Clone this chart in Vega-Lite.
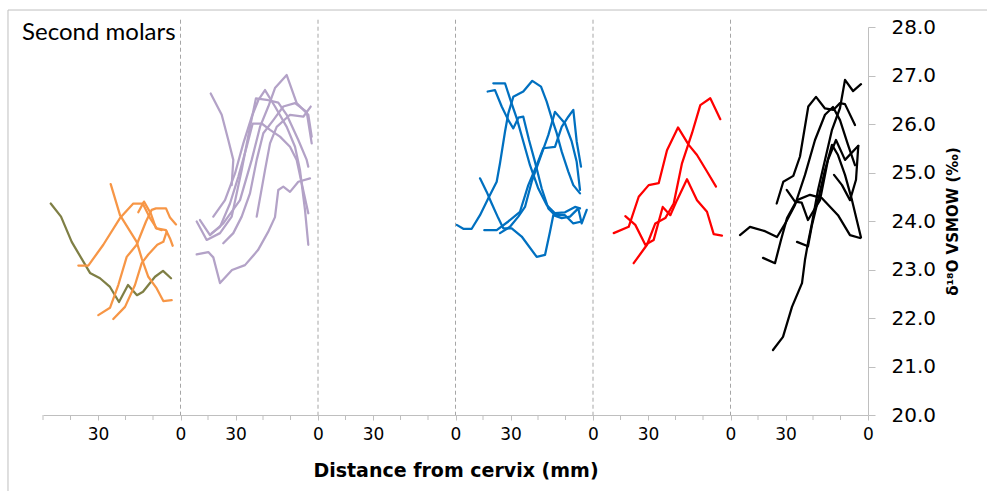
{
  "$schema": "https://vega.github.io/schema/vega-lite/v6.json",
  "autosize": {"type": "none"},
  "width": 825,
  "height": 388,
  "padding": {"left": 43, "top": 27, "right": 119, "bottom": 76},
  "background": "white",
  "config": {"view": {"stroke": null}, "axis": {"labelOverlap": false}},
  "layer": [
    {
      "data": {"values": [
        {"s": "o1", "c": "olive", "i": 0, "x": 2.8, "y": 24.36}, {"s": "o1", "c": "olive", "i": 1, "x": 6.55, "y": 24.09}, {"s": "o1", "c": "olive", "i": 2, "x": 10.44, "y": 23.57}, {"s": "o1", "c": "olive", "i": 3, "x": 17.09, "y": 22.93}, {"s": "o1", "c": "olive", "i": 4, "x": 20.73, "y": 22.82}, {"s": "o1", "c": "olive", "i": 5, "x": 24.36, "y": 22.64}, {"s": "o1", "c": "olive", "i": 6, "x": 27.64, "y": 22.33}, {"s": "o1", "c": "olive", "i": 7, "x": 30.91, "y": 22.68}, {"s": "o1", "c": "olive", "i": 8, "x": 34.18, "y": 22.47}, {"s": "o1", "c": "olive", "i": 9, "x": 36.36, "y": 22.54}, {"s": "o1", "c": "olive", "i": 10, "x": 40.73, "y": 22.85}, {"s": "o1", "c": "olive", "i": 11, "x": 43.64, "y": 22.97}, {"s": "o1", "c": "olive", "i": 12, "x": 46.55, "y": 22.82},

        {"s": "a1", "c": "orange", "i": 0, "x": 24.62, "y": 24.76}, {"s": "a1", "c": "orange", "i": 1, "x": 28.0, "y": 24.12}, {"s": "a1", "c": "orange", "i": 2, "x": 34.07, "y": 23.57}, {"s": "a1", "c": "orange", "i": 3, "x": 35.89, "y": 23.23}, {"s": "a1", "c": "orange", "i": 4, "x": 38.29, "y": 22.85}, {"s": "a1", "c": "orange", "i": 5, "x": 41.35, "y": 22.61}, {"s": "a1", "c": "orange", "i": 6, "x": 43.75, "y": 22.35}, {"s": "a1", "c": "orange", "i": 7, "x": 46.8, "y": 22.37},
        {"s": "a2", "c": "orange", "i": 0, "x": 12.84, "y": 23.08}, {"s": "a2", "c": "orange", "i": 1, "x": 16.47, "y": 23.08}, {"s": "a2", "c": "orange", "i": 2, "x": 21.93, "y": 23.51}, {"s": "a2", "c": "orange", "i": 3, "x": 28.0, "y": 24.06}, {"s": "a2", "c": "orange", "i": 4, "x": 32.84, "y": 24.36}, {"s": "a2", "c": "orange", "i": 5, "x": 36.25, "y": 24.36}, {"s": "a2", "c": "orange", "i": 6, "x": 38.91, "y": 24.06}, {"s": "a2", "c": "orange", "i": 7, "x": 41.35, "y": 23.85}, {"s": "a2", "c": "orange", "i": 8, "x": 44.73, "y": 23.81}, {"s": "a2", "c": "orange", "i": 9, "x": 46.18, "y": 23.64}, {"s": "a2", "c": "orange", "i": 10, "x": 47.16, "y": 23.49},
        {"s": "a3", "c": "orange", "i": 0, "x": 20.11, "y": 22.06}, {"s": "a3", "c": "orange", "i": 1, "x": 24.36, "y": 22.21}, {"s": "a3", "c": "orange", "i": 2, "x": 27.38, "y": 22.68}, {"s": "a3", "c": "orange", "i": 3, "x": 30.44, "y": 23.26}, {"s": "a3", "c": "orange", "i": 4, "x": 34.07, "y": 23.51}, {"s": "a3", "c": "orange", "i": 5, "x": 37.45, "y": 23.99}, {"s": "a3", "c": "orange", "i": 6, "x": 39.53, "y": 24.23}, {"s": "a3", "c": "orange", "i": 7, "x": 41.09, "y": 24.26}, {"s": "a3", "c": "orange", "i": 8, "x": 44.73, "y": 24.26}, {"s": "a3", "c": "orange", "i": 9, "x": 46.18, "y": 24.07}, {"s": "a3", "c": "orange", "i": 10, "x": 48.36, "y": 23.93},
        {"s": "a4", "c": "orange", "i": 0, "x": 25.56, "y": 21.98}, {"s": "a4", "c": "orange", "i": 1, "x": 29.82, "y": 22.23}, {"s": "a4", "c": "orange", "i": 2, "x": 33.45, "y": 22.68}, {"s": "a4", "c": "orange", "i": 3, "x": 35.89, "y": 23.13}, {"s": "a4", "c": "orange", "i": 4, "x": 38.29, "y": 23.31}, {"s": "a4", "c": "orange", "i": 5, "x": 41.56, "y": 23.51}, {"s": "a4", "c": "orange", "i": 6, "x": 43.75, "y": 23.57}, {"s": "a4", "c": "orange", "i": 7, "x": 44.98, "y": 23.78},
        {"s": "a5", "c": "orange", "i": 0, "x": 34.65, "y": 24.18}, {"s": "a5", "c": "orange", "i": 1, "x": 36.73, "y": 24.40}, {"s": "a5", "c": "orange", "i": 2, "x": 39.16, "y": 24.16}, {"s": "a5", "c": "orange", "i": 3, "x": 41.09, "y": 23.85}, {"s": "a5", "c": "orange", "i": 4, "x": 43.16, "y": 23.81},

        {"s": "p1", "c": "lav", "i": 0, "x": 60.98, "y": 26.63}, {"s": "p1", "c": "lav", "i": 1, "x": 64.98, "y": 26.19}, {"s": "p1", "c": "lav", "i": 2, "x": 67.38, "y": 25.67}, {"s": "p1", "c": "lav", "i": 3, "x": 69.2, "y": 25.26}, {"s": "p1", "c": "lav", "i": 4, "x": 68.62, "y": 24.74},
        {"s": "p2", "c": "lav", "i": 0, "x": 57.09, "y": 24.02}, {"s": "p2", "c": "lav", "i": 1, "x": 60.73, "y": 23.71}, {"s": "p2", "c": "lav", "i": 2, "x": 65.56, "y": 23.95}, {"s": "p2", "c": "lav", "i": 3, "x": 71.64, "y": 24.43}, {"s": "p2", "c": "lav", "i": 4, "x": 75.89, "y": 25.26}, {"s": "p2", "c": "lav", "i": 5, "x": 78.91, "y": 25.94}, {"s": "p2", "c": "lav", "i": 6, "x": 81.93, "y": 26.36}, {"s": "p2", "c": "lav", "i": 7, "x": 84.36, "y": 26.74}, {"s": "p2", "c": "lav", "i": 8, "x": 88.62, "y": 27.01}, {"s": "p2", "c": "lav", "i": 9, "x": 92.25, "y": 26.43}, {"s": "p2", "c": "lav", "i": 10, "x": 96.47, "y": 26.19}, {"s": "p2", "c": "lav", "i": 11, "x": 97.71, "y": 25.74},
        {"s": "p3", "c": "lav", "i": 0, "x": 55.89, "y": 23.99}, {"s": "p3", "c": "lav", "i": 1, "x": 59.53, "y": 23.61}, {"s": "p3", "c": "lav", "i": 2, "x": 64.36, "y": 23.75}, {"s": "p3", "c": "lav", "i": 3, "x": 68.62, "y": 24.09}, {"s": "p3", "c": "lav", "i": 4, "x": 72.25, "y": 25.05}, {"s": "p3", "c": "lav", "i": 5, "x": 75.27, "y": 25.94}, {"s": "p3", "c": "lav", "i": 6, "x": 77.45, "y": 26.53}, {"s": "p3", "c": "lav", "i": 7, "x": 81.93, "y": 26.49}, {"s": "p3", "c": "lav", "i": 8, "x": 85.56, "y": 26.44}, {"s": "p3", "c": "lav", "i": 9, "x": 88.62, "y": 26.19}, {"s": "p3", "c": "lav", "i": 10, "x": 92.84, "y": 25.67}, {"s": "p3", "c": "lav", "i": 11, "x": 95.89, "y": 25.26}, {"s": "p3", "c": "lav", "i": 12, "x": 96.47, "y": 25.12},
        {"s": "p4", "c": "lav", "i": 0, "x": 61.35, "y": 23.75}, {"s": "p4", "c": "lav", "i": 1, "x": 64.36, "y": 23.88}, {"s": "p4", "c": "lav", "i": 2, "x": 68.0, "y": 24.36}, {"s": "p4", "c": "lav", "i": 3, "x": 71.02, "y": 24.91}, {"s": "p4", "c": "lav", "i": 4, "x": 74.07, "y": 25.53}, {"s": "p4", "c": "lav", "i": 5, "x": 76.25, "y": 26.01}, {"s": "p4", "c": "lav", "i": 6, "x": 79.53, "y": 26.01}, {"s": "p4", "c": "lav", "i": 7, "x": 82.55, "y": 25.88}, {"s": "p4", "c": "lav", "i": 8, "x": 86.18, "y": 25.74}, {"s": "p4", "c": "lav", "i": 9, "x": 89.82, "y": 25.53}, {"s": "p4", "c": "lav", "i": 10, "x": 92.25, "y": 25.26}, {"s": "p4", "c": "lav", "i": 11, "x": 94.07, "y": 24.78}, {"s": "p4", "c": "lav", "i": 12, "x": 96.47, "y": 24.16},
        {"s": "p5", "c": "lav", "i": 0, "x": 55.89, "y": 23.31}, {"s": "p5", "c": "lav", "i": 1, "x": 60.11, "y": 23.36}, {"s": "p5", "c": "lav", "i": 2, "x": 61.93, "y": 23.25}, {"s": "p5", "c": "lav", "i": 3, "x": 64.36, "y": 22.72}, {"s": "p5", "c": "lav", "i": 4, "x": 68.73, "y": 22.99}, {"s": "p5", "c": "lav", "i": 5, "x": 73.45, "y": 23.09}, {"s": "p5", "c": "lav", "i": 6, "x": 78.18, "y": 23.40}, {"s": "p5", "c": "lav", "i": 7, "x": 81.82, "y": 23.77}, {"s": "p5", "c": "lav", "i": 8, "x": 84.36, "y": 24.08}, {"s": "p5", "c": "lav", "i": 9, "x": 85.56, "y": 24.64}, {"s": "p5", "c": "lav", "i": 10, "x": 87.38, "y": 24.71}, {"s": "p5", "c": "lav", "i": 11, "x": 89.82, "y": 24.60}, {"s": "p5", "c": "lav", "i": 12, "x": 92.84, "y": 24.81}, {"s": "p5", "c": "lav", "i": 13, "x": 97.09, "y": 24.88},
        {"s": "p6", "c": "lav", "i": 0, "x": 65.56, "y": 23.54}, {"s": "p6", "c": "lav", "i": 1, "x": 69.2, "y": 23.75}, {"s": "p6", "c": "lav", "i": 2, "x": 72.25, "y": 24.09}, {"s": "p6", "c": "lav", "i": 3, "x": 75.27, "y": 24.57}, {"s": "p6", "c": "lav", "i": 4, "x": 77.71, "y": 25.26}, {"s": "p6", "c": "lav", "i": 5, "x": 80.11, "y": 25.81}, {"s": "p6", "c": "lav", "i": 6, "x": 83.75, "y": 26.08}, {"s": "p6", "c": "lav", "i": 7, "x": 87.38, "y": 26.36}, {"s": "p6", "c": "lav", "i": 8, "x": 91.64, "y": 26.43}, {"s": "p6", "c": "lav", "i": 9, "x": 95.89, "y": 26.25}, {"s": "p6", "c": "lav", "i": 10, "x": 97.71, "y": 25.60},
        {"s": "p7", "c": "lav", "i": 0, "x": 61.93, "y": 24.09}, {"s": "p7", "c": "lav", "i": 1, "x": 66.18, "y": 24.43}, {"s": "p7", "c": "lav", "i": 2, "x": 69.82, "y": 24.98}, {"s": "p7", "c": "lav", "i": 3, "x": 72.84, "y": 25.60}, {"s": "p7", "c": "lav", "i": 4, "x": 75.89, "y": 26.15}, {"s": "p7", "c": "lav", "i": 5, "x": 78.29, "y": 26.49}, {"s": "p7", "c": "lav", "i": 6, "x": 80.73, "y": 26.70}, {"s": "p7", "c": "lav", "i": 7, "x": 84.36, "y": 26.36}, {"s": "p7", "c": "lav", "i": 8, "x": 88.62, "y": 25.94}, {"s": "p7", "c": "lav", "i": 9, "x": 91.64, "y": 25.53}, {"s": "p7", "c": "lav", "i": 10, "x": 93.45, "y": 25.05}, {"s": "p7", "c": "lav", "i": 11, "x": 95.27, "y": 24.23}, {"s": "p7", "c": "lav", "i": 12, "x": 96.47, "y": 23.51},
        {"s": "p8", "c": "lav", "i": 0, "x": 77.71, "y": 24.09}, {"s": "p8", "c": "lav", "i": 1, "x": 80.73, "y": 25.05}, {"s": "p8", "c": "lav", "i": 2, "x": 82.55, "y": 25.60}, {"s": "p8", "c": "lav", "i": 3, "x": 84.98, "y": 25.94}, {"s": "p8", "c": "lav", "i": 4, "x": 89.82, "y": 26.19}, {"s": "p8", "c": "lav", "i": 5, "x": 94.65, "y": 26.15}, {"s": "p8", "c": "lav", "i": 6, "x": 97.35, "y": 26.36},

        {"s": "b1", "c": "blue", "i": 0, "x": 150.44, "y": 23.92}, {"s": "b1", "c": "blue", "i": 1, "x": 152.84, "y": 23.84}, {"s": "b1", "c": "blue", "i": 2, "x": 155.89, "y": 23.84}, {"s": "b1", "c": "blue", "i": 3, "x": 158.91, "y": 24.12}, {"s": "b1", "c": "blue", "i": 4, "x": 161.93, "y": 24.47}, {"s": "b1", "c": "blue", "i": 5, "x": 164.98, "y": 24.81}, {"s": "b1", "c": "blue", "i": 6, "x": 166.18, "y": 25.19}, {"s": "b1", "c": "blue", "i": 7, "x": 168.0, "y": 25.84}, {"s": "b1", "c": "blue", "i": 8, "x": 169.2, "y": 26.22}, {"s": "b1", "c": "blue", "i": 9, "x": 171.02, "y": 26.56}, {"s": "b1", "c": "blue", "i": 10, "x": 174.65, "y": 26.67}, {"s": "b1", "c": "blue", "i": 11, "x": 177.93, "y": 26.89}, {"s": "b1", "c": "blue", "i": 12, "x": 181.09, "y": 26.77}, {"s": "b1", "c": "blue", "i": 13, "x": 183.16, "y": 26.46}, {"s": "b1", "c": "blue", "i": 14, "x": 184.98, "y": 26.12}, {"s": "b1", "c": "blue", "i": 15, "x": 186.8, "y": 25.81}, {"s": "b1", "c": "blue", "i": 16, "x": 188.62, "y": 25.43}, {"s": "b1", "c": "blue", "i": 17, "x": 191.02, "y": 25.02}, {"s": "b1", "c": "blue", "i": 18, "x": 192.84, "y": 24.74}, {"s": "b1", "c": "blue", "i": 19, "x": 195.27, "y": 24.57},
        {"s": "b2", "c": "blue", "i": 0, "x": 161.7, "y": 26.67}, {"s": "b2", "c": "blue", "i": 1, "x": 164.36, "y": 26.70}, {"s": "b2", "c": "blue", "i": 2, "x": 166.8, "y": 26.36}, {"s": "b2", "c": "blue", "i": 3, "x": 169.2, "y": 26.08}, {"s": "b2", "c": "blue", "i": 4, "x": 171.02, "y": 25.91}, {"s": "b2", "c": "blue", "i": 5, "x": 172.84, "y": 26.13}, {"s": "b2", "c": "blue", "i": 6, "x": 174.65, "y": 26.15}, {"s": "b2", "c": "blue", "i": 7, "x": 176.73, "y": 25.67}, {"s": "b2", "c": "blue", "i": 8, "x": 178.91, "y": 25.22}, {"s": "b2", "c": "blue", "i": 9, "x": 181.35, "y": 24.67}, {"s": "b2", "c": "blue", "i": 10, "x": 183.75, "y": 24.26}, {"s": "b2", "c": "blue", "i": 11, "x": 186.18, "y": 24.12}, {"s": "b2", "c": "blue", "i": 12, "x": 189.82, "y": 24.12}, {"s": "b2", "c": "blue", "i": 13, "x": 192.84, "y": 23.95}, {"s": "b2", "c": "blue", "i": 14, "x": 195.89, "y": 23.99},
        {"s": "b3", "c": "blue", "i": 0, "x": 163.75, "y": 26.84}, {"s": "b3", "c": "blue", "i": 1, "x": 168.0, "y": 26.84}, {"s": "b3", "c": "blue", "i": 2, "x": 170.18, "y": 26.46}, {"s": "b3", "c": "blue", "i": 3, "x": 172.25, "y": 26.12}, {"s": "b3", "c": "blue", "i": 4, "x": 174.65, "y": 25.64}, {"s": "b3", "c": "blue", "i": 5, "x": 177.09, "y": 25.15}, {"s": "b3", "c": "blue", "i": 6, "x": 180.11, "y": 24.67}, {"s": "b3", "c": "blue", "i": 7, "x": 183.16, "y": 24.33}, {"s": "b3", "c": "blue", "i": 8, "x": 186.18, "y": 24.16}, {"s": "b3", "c": "blue", "i": 9, "x": 189.82, "y": 24.18}, {"s": "b3", "c": "blue", "i": 10, "x": 193.45, "y": 24.29}, {"s": "b3", "c": "blue", "i": 11, "x": 195.27, "y": 24.26},
        {"s": "b4", "c": "blue", "i": 0, "x": 158.91, "y": 24.88}, {"s": "b4", "c": "blue", "i": 1, "x": 161.35, "y": 24.60}, {"s": "b4", "c": "blue", "i": 2, "x": 163.16, "y": 24.36}, {"s": "b4", "c": "blue", "i": 3, "x": 165.56, "y": 24.06}, {"s": "b4", "c": "blue", "i": 4, "x": 167.38, "y": 23.85}, {"s": "b4", "c": "blue", "i": 5, "x": 170.44, "y": 23.85}, {"s": "b4", "c": "blue", "i": 6, "x": 174.07, "y": 23.68}, {"s": "b4", "c": "blue", "i": 7, "x": 179.53, "y": 23.26}, {"s": "b4", "c": "blue", "i": 8, "x": 182.55, "y": 23.30}, {"s": "b4", "c": "blue", "i": 9, "x": 184.36, "y": 23.78}, {"s": "b4", "c": "blue", "i": 10, "x": 185.56, "y": 24.12}, {"s": "b4", "c": "blue", "i": 11, "x": 188.62, "y": 24.06}, {"s": "b4", "c": "blue", "i": 12, "x": 191.64, "y": 24.09}, {"s": "b4", "c": "blue", "i": 13, "x": 194.65, "y": 24.26}, {"s": "b4", "c": "blue", "i": 14, "x": 195.89, "y": 23.95}, {"s": "b4", "c": "blue", "i": 15, "x": 197.71, "y": 24.23},
        {"s": "b5", "c": "blue", "i": 0, "x": 160.47, "y": 23.81}, {"s": "b5", "c": "blue", "i": 1, "x": 164.98, "y": 23.81}, {"s": "b5", "c": "blue", "i": 2, "x": 169.2, "y": 23.99}, {"s": "b5", "c": "blue", "i": 3, "x": 173.45, "y": 24.19}, {"s": "b5", "c": "blue", "i": 4, "x": 176.47, "y": 24.74}, {"s": "b5", "c": "blue", "i": 5, "x": 179.53, "y": 25.15}, {"s": "b5", "c": "blue", "i": 6, "x": 181.93, "y": 25.50}, {"s": "b5", "c": "blue", "i": 7, "x": 186.18, "y": 25.53}, {"s": "b5", "c": "blue", "i": 8, "x": 188.62, "y": 25.94}, {"s": "b5", "c": "blue", "i": 9, "x": 191.02, "y": 26.15}, {"s": "b5", "c": "blue", "i": 10, "x": 192.84, "y": 26.29}, {"s": "b5", "c": "blue", "i": 11, "x": 194.07, "y": 25.64}, {"s": "b5", "c": "blue", "i": 12, "x": 195.64, "y": 25.12},
        {"s": "b6", "c": "blue", "i": 0, "x": 166.18, "y": 23.75}, {"s": "b6", "c": "blue", "i": 1, "x": 169.82, "y": 23.88}, {"s": "b6", "c": "blue", "i": 2, "x": 172.84, "y": 24.09}, {"s": "b6", "c": "blue", "i": 3, "x": 175.27, "y": 24.29}, {"s": "b6", "c": "blue", "i": 4, "x": 177.71, "y": 24.81}, {"s": "b6", "c": "blue", "i": 5, "x": 180.73, "y": 25.29}, {"s": "b6", "c": "blue", "i": 6, "x": 183.75, "y": 25.77}, {"s": "b6", "c": "blue", "i": 7, "x": 186.18, "y": 26.25}, {"s": "b6", "c": "blue", "i": 8, "x": 189.82, "y": 26.01}, {"s": "b6", "c": "blue", "i": 9, "x": 192.25, "y": 25.64}, {"s": "b6", "c": "blue", "i": 10, "x": 194.07, "y": 25.22}, {"s": "b6", "c": "blue", "i": 11, "x": 195.27, "y": 24.64},

        {"s": "r1", "c": "red", "i": 0, "x": 207.53, "y": 23.75}, {"s": "r1", "c": "red", "i": 1, "x": 212.98, "y": 23.88}, {"s": "r1", "c": "red", "i": 2, "x": 216.62, "y": 24.50}, {"s": "r1", "c": "red", "i": 3, "x": 220.25, "y": 24.74}, {"s": "r1", "c": "red", "i": 4, "x": 223.89, "y": 24.78}, {"s": "r1", "c": "red", "i": 5, "x": 226.91, "y": 25.46}, {"s": "r1", "c": "red", "i": 6, "x": 230.91, "y": 25.93}, {"s": "r1", "c": "red", "i": 7, "x": 234.8, "y": 25.57}, {"s": "r1", "c": "red", "i": 8, "x": 237.82, "y": 25.36}, {"s": "r1", "c": "red", "i": 9, "x": 241.45, "y": 25.02}, {"s": "r1", "c": "red", "i": 10, "x": 244.73, "y": 24.71},
        {"s": "r2", "c": "red", "i": 0, "x": 211.75, "y": 24.10}, {"s": "r2", "c": "red", "i": 1, "x": 215.38, "y": 23.92}, {"s": "r2", "c": "red", "i": 2, "x": 219.02, "y": 23.51}, {"s": "r2", "c": "red", "i": 3, "x": 222.07, "y": 23.61}, {"s": "r2", "c": "red", "i": 4, "x": 225.35, "y": 24.29}, {"s": "r2", "c": "red", "i": 5, "x": 228.11, "y": 24.12}, {"s": "r2", "c": "red", "i": 6, "x": 230.55, "y": 24.43}, {"s": "r2", "c": "red", "i": 7, "x": 234.18, "y": 24.86}, {"s": "r2", "c": "red", "i": 8, "x": 237.82, "y": 24.43}, {"s": "r2", "c": "red", "i": 9, "x": 241.45, "y": 24.19}, {"s": "r2", "c": "red", "i": 10, "x": 243.89, "y": 23.73}, {"s": "r2", "c": "red", "i": 11, "x": 246.91, "y": 23.70},
        {"s": "r3", "c": "red", "i": 0, "x": 214.8, "y": 23.13}, {"s": "r3", "c": "red", "i": 1, "x": 219.64, "y": 23.51}, {"s": "r3", "c": "red", "i": 2, "x": 222.65, "y": 23.95}, {"s": "r3", "c": "red", "i": 3, "x": 226.29, "y": 24.06}, {"s": "r3", "c": "red", "i": 4, "x": 229.35, "y": 24.36}, {"s": "r3", "c": "red", "i": 5, "x": 232.36, "y": 25.19}, {"s": "r3", "c": "red", "i": 6, "x": 236.0, "y": 25.81}, {"s": "r3", "c": "red", "i": 7, "x": 239.02, "y": 26.39}, {"s": "r3", "c": "red", "i": 8, "x": 242.65, "y": 26.53}, {"s": "r3", "c": "red", "i": 9, "x": 246.29, "y": 26.10},

        {"s": "k1", "c": "black", "i": 0, "x": 253.45, "y": 23.71}, {"s": "k1", "c": "black", "i": 1, "x": 257.09, "y": 23.88}, {"s": "k1", "c": "black", "i": 2, "x": 262.55, "y": 23.79}, {"s": "k1", "c": "black", "i": 3, "x": 266.91, "y": 23.67}, {"s": "k1", "c": "black", "i": 4, "x": 269.82, "y": 23.94}, {"s": "k1", "c": "black", "i": 5, "x": 273.45, "y": 24.33}, {"s": "k1", "c": "black", "i": 6, "x": 277.09, "y": 24.95}, {"s": "k1", "c": "black", "i": 7, "x": 280.73, "y": 25.67}, {"s": "k1", "c": "black", "i": 8, "x": 284.36, "y": 26.19}, {"s": "k1", "c": "black", "i": 9, "x": 287.27, "y": 26.35}, {"s": "k1", "c": "black", "i": 10, "x": 289.82, "y": 26.08}, {"s": "k1", "c": "black", "i": 11, "x": 292.73, "y": 25.57}, {"s": "k1", "c": "black", "i": 12, "x": 295.27, "y": 25.15},
        {"s": "k2", "c": "black", "i": 0, "x": 261.82, "y": 23.24}, {"s": "k2", "c": "black", "i": 1, "x": 266.18, "y": 23.13}, {"s": "k2", "c": "black", "i": 2, "x": 268.36, "y": 23.61}, {"s": "k2", "c": "black", "i": 3, "x": 270.55, "y": 24.06}, {"s": "k2", "c": "black", "i": 4, "x": 274.18, "y": 24.43}, {"s": "k2", "c": "black", "i": 5, "x": 278.91, "y": 24.54}, {"s": "k2", "c": "black", "i": 6, "x": 283.27, "y": 24.47}, {"s": "k2", "c": "black", "i": 7, "x": 289.09, "y": 24.12}, {"s": "k2", "c": "black", "i": 8, "x": 293.45, "y": 23.71}, {"s": "k2", "c": "black", "i": 9, "x": 297.09, "y": 23.65},
        {"s": "k3", "c": "black", "i": 0, "x": 265.45, "y": 21.34}, {"s": "k3", "c": "black", "i": 1, "x": 269.09, "y": 21.61}, {"s": "k3", "c": "black", "i": 2, "x": 272.36, "y": 22.23}, {"s": "k3", "c": "black", "i": 3, "x": 276.0, "y": 22.72}, {"s": "k3", "c": "black", "i": 4, "x": 277.09, "y": 23.20}, {"s": "k3", "c": "black", "i": 5, "x": 278.18, "y": 23.55}, {"s": "k3", "c": "black", "i": 6, "x": 279.64, "y": 23.96}, {"s": "k3", "c": "black", "i": 7, "x": 281.82, "y": 24.64}, {"s": "k3", "c": "black", "i": 8, "x": 284.36, "y": 25.26}, {"s": "k3", "c": "black", "i": 9, "x": 286.91, "y": 25.88}, {"s": "k3", "c": "black", "i": 10, "x": 289.82, "y": 26.33}, {"s": "k3", "c": "black", "i": 11, "x": 291.64, "y": 26.91}, {"s": "k3", "c": "black", "i": 12, "x": 294.55, "y": 26.68}, {"s": "k3", "c": "black", "i": 13, "x": 297.45, "y": 26.82},
        {"s": "k4", "c": "black", "i": 0, "x": 266.8, "y": 24.36}, {"s": "k4", "c": "black", "i": 1, "x": 269.2, "y": 24.81}, {"s": "k4", "c": "black", "i": 2, "x": 272.84, "y": 24.93}, {"s": "k4", "c": "black", "i": 3, "x": 275.27, "y": 25.33}, {"s": "k4", "c": "black", "i": 4, "x": 278.29, "y": 26.36}, {"s": "k4", "c": "black", "i": 5, "x": 281.09, "y": 26.56}, {"s": "k4", "c": "black", "i": 6, "x": 284.36, "y": 26.32}, {"s": "k4", "c": "black", "i": 7, "x": 287.38, "y": 26.29}, {"s": "k4", "c": "black", "i": 8, "x": 289.82, "y": 26.43}, {"s": "k4", "c": "black", "i": 9, "x": 291.64, "y": 26.41}, {"s": "k4", "c": "black", "i": 10, "x": 295.27, "y": 25.98},
        {"s": "k5", "c": "black", "i": 0, "x": 274.18, "y": 23.57}, {"s": "k5", "c": "black", "i": 1, "x": 278.18, "y": 23.48}, {"s": "k5", "c": "black", "i": 2, "x": 279.64, "y": 23.92}, {"s": "k5", "c": "black", "i": 3, "x": 281.82, "y": 24.43}, {"s": "k5", "c": "black", "i": 4, "x": 284.36, "y": 25.05}, {"s": "k5", "c": "black", "i": 5, "x": 286.91, "y": 25.57}, {"s": "k5", "c": "black", "i": 6, "x": 289.09, "y": 25.36}, {"s": "k5", "c": "black", "i": 7, "x": 291.64, "y": 24.95}, {"s": "k5", "c": "black", "i": 8, "x": 294.18, "y": 24.43}, {"s": "k5", "c": "black", "i": 9, "x": 296.0, "y": 24.0}, {"s": "k5", "c": "black", "i": 10, "x": 297.45, "y": 23.66},
        {"s": "k6", "c": "black", "i": 0, "x": 270.44, "y": 24.64}, {"s": "k6", "c": "black", "i": 1, "x": 273.45, "y": 24.40}, {"s": "k6", "c": "black", "i": 2, "x": 275.89, "y": 24.38}, {"s": "k6", "c": "black", "i": 3, "x": 278.18, "y": 24.02}, {"s": "k6", "c": "black", "i": 4, "x": 282.55, "y": 24.43}, {"s": "k6", "c": "black", "i": 5, "x": 285.45, "y": 25.26}, {"s": "k6", "c": "black", "i": 6, "x": 288.36, "y": 25.67}, {"s": "k6", "c": "black", "i": 7, "x": 291.64, "y": 25.26}, {"s": "k6", "c": "black", "i": 8, "x": 296.47, "y": 25.55},
        {"s": "k7", "c": "black", "i": 0, "x": 287.64, "y": 24.95}, {"s": "k7", "c": "black", "i": 1, "x": 290.55, "y": 24.74}, {"s": "k7", "c": "black", "i": 2, "x": 293.45, "y": 24.43}, {"s": "k7", "c": "black", "i": 3, "x": 295.64, "y": 24.85}, {"s": "k7", "c": "black", "i": 4, "x": 296.47, "y": 25.55}
      ]},
      "mark": {"type": "line", "strokeWidth": 2.25, "strokeJoin": "round", "strokeCap": "round", "clip": false},
      "encoding": {
        "x": {
          "field": "x", "type": "quantitative",
          "scale": {"domain": [0, 300], "nice": false, "zero": false},
          "axis": {
            "orient": "bottom",
            "values": [20, 50, 70, 100, 120, 150, 170, 200, 220, 250, 270, 300],
            "labelExpr": "indexof([50, 100, 150, 200, 250, 300], datum.value) >= 0 ? '0' : '30'",
            "grid": false,
            "domainColor": "#bfbfbf", "tickColor": "#bfbfbf", "tickSize": 5,
            "labelFont": "DejaVu Sans", "labelFontSize": 17, "labelColor": "#000000", "labelPadding": 6,
            "labelOverlap": false, "labelFlush": false, "labelBound": false,
            "title": "Distance from cervix (mm)",
            "titleFont": "DejaVu Sans", "titleFontSize": 19, "titleFontWeight": "bold", "titleColor": "#000000", "titlePadding": 19
          }
        },
        "y": {
          "field": "y", "type": "quantitative",
          "scale": {"domain": [20, 28], "nice": false, "zero": false},
          "axis": {
            "orient": "right",
            "values": [20, 20.5, 21, 21.5, 22, 22.5, 23, 23.5, 24, 24.5, 25, 25.5, 26, 26.5, 27, 27.5, 28],
            "labelExpr": "datum.value % 1 == 0 ? format(datum.value, '.1f') : ''",
            "grid": false,
            "domainColor": "#bfbfbf", "tickColor": "#bfbfbf",
            "tickSize": {"condition": {"test": "datum.value % 1 == 0", "value": 7}, "value": 5},
            "labelFont": "DejaVu Sans", "labelFontSize": 20, "labelColor": "#000000", "labelPadding": 16,
            "labelOverlap": false, "labelFlush": false, "labelBound": false,
            "title": "δ¹⁸O VSMOW (‰)",
            "titleFont": "DejaVu Sans", "titleFontSize": 15, "titleFontWeight": "bold", "titleColor": "#000000", "titlePadding": 10, "titleAngle": 270, "titleBaseline": "top"
          }
        },
        "color": {
          "field": "c", "type": "nominal", "legend": null,
          "scale": {"domain": ["olive", "orange", "lav", "blue", "red", "black"], "range": ["#7f7f45", "#f79646", "#b3a2c7", "#0070c0", "#ff0000", "#000000"]}
        },
        "detail": {"field": "s"},
        "order": {"field": "i", "type": "quantitative"}
      }
    },
    {
      "data": {"values": [{"x": 0}, {"x": 10}, {"x": 30}, {"x": 40}, {"x": 60}, {"x": 80}, {"x": 90}, {"x": 110}, {"x": 130}, {"x": 140}, {"x": 160}, {"x": 180}, {"x": 190}, {"x": 210}, {"x": 230}, {"x": 240}, {"x": 260}, {"x": 280}, {"x": 290}]},
      "mark": {"type": "rule", "color": "#bfbfbf", "strokeWidth": 1, "clip": false},
      "encoding": {
        "x": {"field": "x", "type": "quantitative"},
        "y": {"datum": 20},
        "y2": {"datum": 19.897}
      }
    },
    {
      "data": {"values": [
        {"x": -12.73, "x2": 343.3, "y": 28.35, "y2": 28.35},
        {"x": -12.73, "x2": -12.73, "y": 28.35, "y2": 18.43}
      ]},
      "mark": {"type": "rule", "color": "#bfbfbf", "strokeWidth": 1, "clip": false},
      "encoding": {
        "x": {"field": "x", "type": "quantitative"},
        "x2": {"field": "x2"},
        "y": {"field": "y", "type": "quantitative"},
        "y2": {"field": "y2"}
      }
    },
    {
      "data": {"values": [{"x": 50}, {"x": 100}, {"x": 150}, {"x": 200}, {"x": 250}]},
      "mark": {"type": "rule", "color": "#a6a6a6", "strokeWidth": 1, "strokeDash": [4, 3], "clip": false},
      "encoding": {
        "x": {"field": "x", "type": "quantitative"},
        "y": {"datum": 28.15},
        "y2": {"datum": 20}
      }
    },
    {
      "data": {"values": [{"x": -7.6, "y": 27.88, "t": "Second molars"}]},
      "mark": {"type": "text", "align": "left", "baseline": "middle", "font": "Lato", "fontSize": 24, "color": "#000000", "clip": false},
      "encoding": {
        "x": {"field": "x", "type": "quantitative"},
        "y": {"field": "y", "type": "quantitative"},
        "text": {"field": "t"}
      }
    }
  ]
}
